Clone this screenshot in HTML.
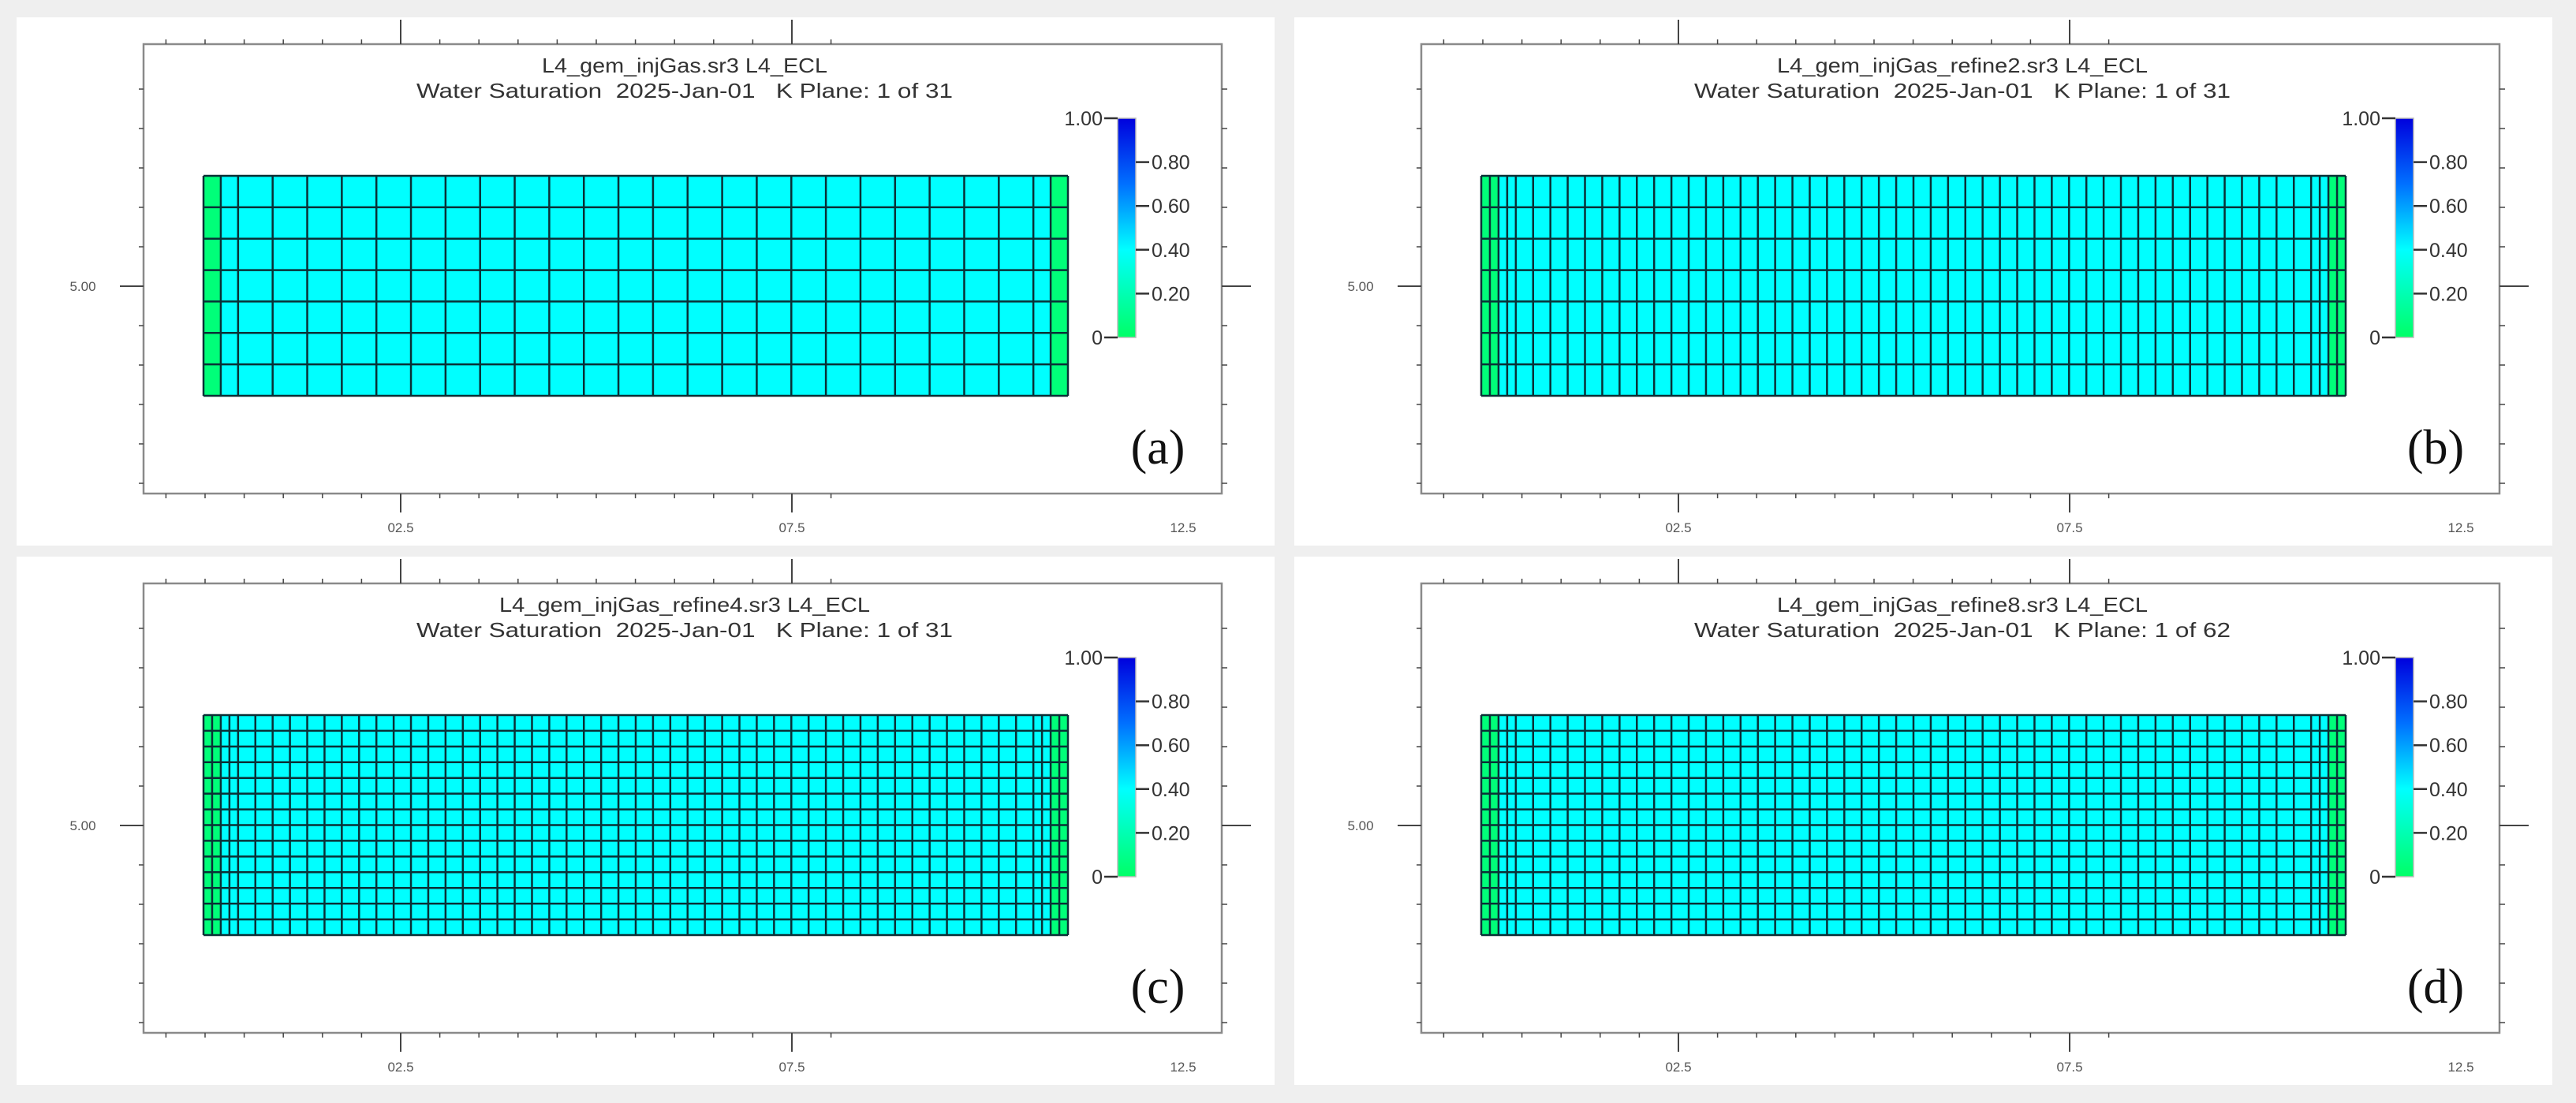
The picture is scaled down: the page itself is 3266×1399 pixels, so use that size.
<!DOCTYPE html>
<html><head><meta charset="utf-8">
<style>
html,body{margin:0;padding:0;background:#efefef;}
svg{display:block;font-family:"Liberation Sans",sans-serif;}
text{white-space:pre;}
</style></head>
<body>
<svg id="fig" width="3266" height="1399" viewBox="0 0 3266 1399" xmlns="http://www.w3.org/2000/svg">
<rect x="0" y="0" width="3266" height="1399" fill="#efefef"/>
<defs>
<linearGradient id="cbar" x1="0" y1="1" x2="0" y2="0">
<stop offset="0" stop-color="#00ff66"/>
<stop offset="0.4" stop-color="#00ffff"/>
<stop offset="0.7" stop-color="#0070ff"/>
<stop offset="1" stop-color="#0000dd"/>
</linearGradient>
</defs>
</svg>
<script>
// ---- data ----
const panelIds = ['a','b','c','d'];
const panelTitles = ['L4_gem_injGas.sr3 L4_ECL','L4_gem_injGas_refine2.sr3 L4_ECL','L4_gem_injGas_refine4.sr3 L4_ECL','L4_gem_injGas_refine8.sr3 L4_ECL'];
const panelSubtitles = ['Water Saturation  2025-Jan-01   K Plane: 1 of 31','Water Saturation  2025-Jan-01   K Plane: 1 of 31','Water Saturation  2025-Jan-01   K Plane: 1 of 31','Water Saturation  2025-Jan-01   K Plane: 1 of 62'];
const panelLabels = ['(a)','(b)','(c)','(d)'];
const panelRows = [7, 7, 14, 14];
const colSplit = [1, 2, 2, 2];
// base column widths (units) and their water saturation values
const baseColWidths = [0.5,0.5,1,1,1,1,1,1,1,1,1,1,1,1,1,1,1,1,1,1,1,1,1,1,1,0.5,0.5];
const baseColSat = [0.05,0.4,0.4,0.4,0.4,0.4,0.4,0.4,0.4,0.4,0.4,0.4,0.4,0.4,0.4,0.4,0.4,0.4,0.4,0.4,0.4,0.4,0.4,0.4,0.4,0.4,0.05];
const xTickLabels = ['02.5','07.5','12.5'];
const xTickValues = [2.5, 7.5, 12.5];
const yTickLabels = ['5.00'];
const yTickValues = [5.0];
const cbarTickValues = [1.0, 0.8, 0.6, 0.4, 0.2, 0];
const cbarTickLabels = ['1.00','0.80','0.60','0.40','0.20','0'];

// ---- layout ----
const NS='http://www.w3.org/2000/svg';
const svg=document.getElementById('fig');
const offsets=[[0,0],[1620,0],[0,684],[1620,684]];
function mk(tag,attrs,parent){const e=document.createElementNS(NS,tag);for(const k in attrs)e.setAttribute(k,attrs[k]);parent.appendChild(e);return e;}
function satColor(v){
  const stops=[[0,[0,255,102]],[0.4,[0,255,255]],[0.7,[0,112,255]],[1,[0,0,221]]];
  for(let i=1;i<stops.length;i++){if(v<=stops[i][0]){const a=stops[i-1],b=stops[i];const t=(v-a[0])/(b[0]-a[0]);
    const c=a[1].map((q,j)=>Math.round(q+(b[1][j]-q)*t));return 'rgb('+c.join(',')+')';}}
  return 'rgb(0,0,221)';
}
const frameL=182, frameR=1549, frameT=56, frameB=626;
function xAxis(v){return 508+(v-2.5)*(1004-508)/5;}
function yAxis(v){return 363-(v-5)*100;}
const gridL=258, gridR=1354, gridT=223, gridB=502;
const totalUnits=baseColWidths.reduce((s,w)=>s+w,0);
function ux(u){return gridL+u*(gridR-gridL)/totalUnits;}
function cbY(v){return 428-v*(428-150);}

panelIds.forEach((pid,pi)=>{
  const [ox,oy]=offsets[pi];
  const g=mk('g',{transform:`translate(${ox},${oy})`},svg);
  
  
  const bg=mk('rect',{x:21,y:22,width:1595,height:670,fill:'#ffffff'},g);
  
  
  const fr=mk('rect',{x:frameL,y:frameT,width:frameR-frameL,height:frameB-frameT,fill:'none',stroke:'#8a8a8a','stroke-width':2.5},g);
  
  
  for(let k=-6;k<=11;k++){
    const v=2.5+k*0.5;const x=xAxis(v);
    if(x<frameL+5||x>frameR-5)continue;
    const major=(k%10===0);
    const t1=mk('line',{x1:x,x2:x,y1:major?25:50,y2:frameT,stroke:'#444','stroke-width':major?2:1.5},g);
    
    
    const t2=mk('line',{x1:x,x2:x,y1:frameB,y2:major?650:632,stroke:'#444','stroke-width':major?2:1.5},g);
    
    
  }
  xTickValues.forEach((v,i)=>{
    const t=mk('text',{x:xAxis(v),y:675,'font-size':17,fill:'#555','text-anchor':'middle'},g);
    t.textContent=xTickLabels[i];
    
    
  });
  for(let k=-6;k<=5;k++){
    const y=yAxis(5+k*0.5);
    if(y<frameT||y>frameB)continue;
    const major=(k===0);
    const l=mk('line',{x1:major?152:176,x2:frameL,y1:y,y2:y,stroke:'#444','stroke-width':major?2:1.5},g);
    
    
    const r=mk('line',{x1:frameR,x2:major?1586:1556,y1:y,y2:y,stroke:'#444','stroke-width':major?2:1.5},g);
    
    
  }
  yTickValues.forEach((v,i)=>{
    const t=mk('text',{x:105,y:yAxis(v)+6,'font-size':17,fill:'#555','text-anchor':'middle'},g);
    t.textContent=yTickLabels[i];
    
    
  });
  const t1=mk('text',{x:868,y:92,'font-size':26,fill:'#333','text-anchor':'middle'},g);
  t1.textContent=panelTitles[pi];
  
  
  const t2=mk('text',{x:868,y:124,'font-size':26,fill:'#333','text-anchor':'middle',textLength:680,lengthAdjust:'spacingAndGlyphs'},g);
  t2.textContent=panelSubtitles[pi];
  
  
  if(pi===0){t1.setAttribute('textLength',362);t1.setAttribute('lengthAdjust','spacingAndGlyphs');}
  else{t1.setAttribute('textLength',470);t1.setAttribute('lengthAdjust','spacingAndGlyphs');}
  const nr=panelRows[pi], sp=colSplit[pi];
  const gg=mk('g',{},g);
  
  
  const rowH=(gridB-gridT)/nr;
  let u=0;
  const xs=[];
  baseColWidths.forEach((w,ci)=>{
    for(let s=0;s<sp;s++){
      const x0=ux(u), x1=ux(u+w/sp);
      xs.push(x0);
      for(let r=0;r<nr;r++){
        const c=mk('rect',{x:x0,y:gridT+r*rowH,width:x1-x0,height:rowH,fill:satColor(baseColSat[ci])},gg);
        
        
      }
      u+=w/sp;
    }
  });
  xs.push(ux(u));
  xs.forEach((x,i)=>{
    const l=mk('line',{x1:x,x2:x,y1:gridT,y2:gridB,stroke:'#0a3036','stroke-width':2.5},gg);
    
    
  });
  for(let r=0;r<=nr;r++){
    const y=gridT+r*rowH;
    const l=mk('line',{x1:gridL,x2:gridR,y1:y,y2:y,stroke:'#0a3036','stroke-width':2.5},gg);
    
    
  }
  const cb=mk('rect',{x:1417,y:150,width:23,height:278,fill:'url(#cbar)',stroke:'#bbb','stroke-width':1.5},g);
  
  
  cbarTickValues.forEach((v,i)=>{
    const y=cbY(v);
    const left=(v===1||v===0);
    const l=mk('line',{x1:left?1400:1440,x2:left?1417:1457,y1:y,y2:y,stroke:'#333','stroke-width':2.5},g);
    
    
    const t=mk('text',{x:left?1398:1460,y:y+9,'font-size':25,fill:'#333','text-anchor':left?'end':'start'},g);
    t.textContent=cbarTickLabels[i];
    
    
  });
  const pl=mk('text',{x:1468,y:588,'font-size':62,fill:'#111','text-anchor':'middle','font-family':'Liberation Serif, serif'},g);
  pl.textContent=panelLabels[pi];
  
  
});
</script>
</body></html>
